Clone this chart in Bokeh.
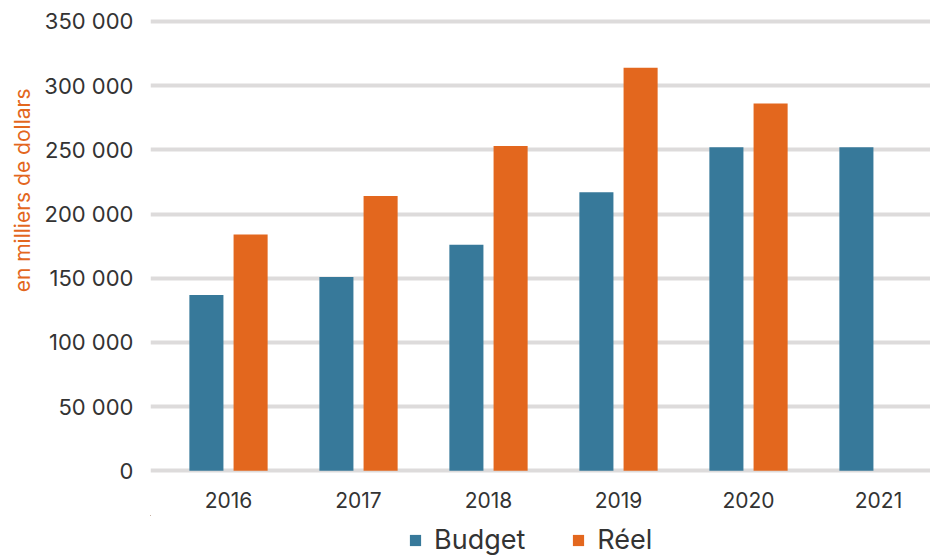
import numpy as np
from bokeh.plotting import figure
from bokeh.layouts import column
from bokeh.models import Range1d, FixedTicker, Legend, LegendItem, ColumnDataSource, Title
from bokeh.embed import file_html
from bokeh.resources import INLINE

years = ["2016", "2017", "2018", "2019", "2020", "2021"]
budget = [137000, 151000, 176000, 217000, 252000, 252000]
reel = [184000, 214000, 253000, 314000, 286000, float("nan")]
y_ticks = [0, 50000, 100000, 150000, 200000, 250000, 300000, 350000]

BLUE = "#37799a"
ORANGE = "#e3671e"
TEXT = "#333333"
FONT = "Inter"

idx = np.arange(len(years))
src = ColumnDataSource(dict(
    xb=idx - 0.17, xr=idx + 0.17, budget=budget, reel=reel,
))

p = figure(width=930, height=515, output_backend="svg", toolbar_location=None,
           x_range=Range1d(-0.6, 5.4), y_range=Range1d(-3660, 354600),
           min_border_left=150, min_border_right=0, min_border_top=15,
           min_border_bottom=40)
p.outline_line_color = None
p.background_fill_color = None
p.border_fill_color = "white"

rb = p.vbar(x="xb", top="budget", width=0.262, source=src, fill_color=BLUE, line_color=None)
rr = p.vbar(x="xr", top="reel", width=0.262, source=src, fill_color=ORANGE, line_color=None)

p.xgrid.grid_line_color = None
p.ygrid.grid_line_color = "#dddbdb"
p.ygrid.grid_line_width = 4
p.ygrid.ticker = FixedTicker(ticks=y_ticks)

ya = p.yaxis[0]
ya.ticker = FixedTicker(ticks=y_ticks)
ya.major_label_overrides = {t: f"{t:,}".replace(",", " ") for t in y_ticks}
ya.axis_line_color = None
ya.major_tick_line_color = None
ya.minor_tick_line_color = None
ya.major_label_standoff = 11
ya.major_label_text_font = FONT
ya.major_label_text_font_size = "22px"
ya.major_label_text_color = TEXT

ytitle = Title(text="en milliers de dollars", text_color=ORANGE, text_font=FONT,
               text_font_size="21px", text_font_style="normal",
               align="right", offset=73, vertical_align="top")
p.add_layout(ytitle, "left")

xa = p.xaxis[0]
xa.ticker = FixedTicker(ticks=list(idx))
xa.major_label_overrides = {int(i): y for i, y in zip(idx, years)}
xa.axis_line_color = None
xa.major_tick_line_color = None
xa.minor_tick_line_color = None
xa.major_label_standoff = 10
xa.major_label_text_font = FONT
xa.major_label_text_font_size = "21px"
xa.major_label_text_color = TEXT

# legend strip below the chart; its bars lie outside its ranges and only
# serve as legend swatches
leg = figure(width=930, height=41, output_backend="svg", toolbar_location=None,
             x_range=Range1d(100, 101), y_range=Range1d(-1e9, -1e9 + 1), min_border=0,
             x_axis_type=None, y_axis_type=None)
leg.outline_line_color = None
leg.background_fill_color = None
leg.border_fill_color = "white"
leg.xgrid.visible = False
leg.ygrid.visible = False
lb = leg.vbar(x="xb", top="budget", width=0.1, source=src, fill_color=BLUE, line_color=None)
lr = leg.vbar(x="xr", top="reel", width=0.1, source=src, fill_color=ORANGE, line_color=None)
legend = Legend(items=[LegendItem(label="Budget", renderers=[lb]),
                       LegendItem(label="Réel", renderers=[lr])],
                orientation="horizontal", location=(258, 0),
                border_line_color=None, background_fill_alpha=0,
                label_text_font=FONT, label_text_font_size="27px",
                label_text_color=TEXT, glyph_width=14, glyph_height=14,
                label_standoff=12, spacing=46, padding=0, margin=0)
leg.add_layout(legend, "center")

open("out.html", "w").write(file_html(column(p, leg, spacing=0), INLINE))
